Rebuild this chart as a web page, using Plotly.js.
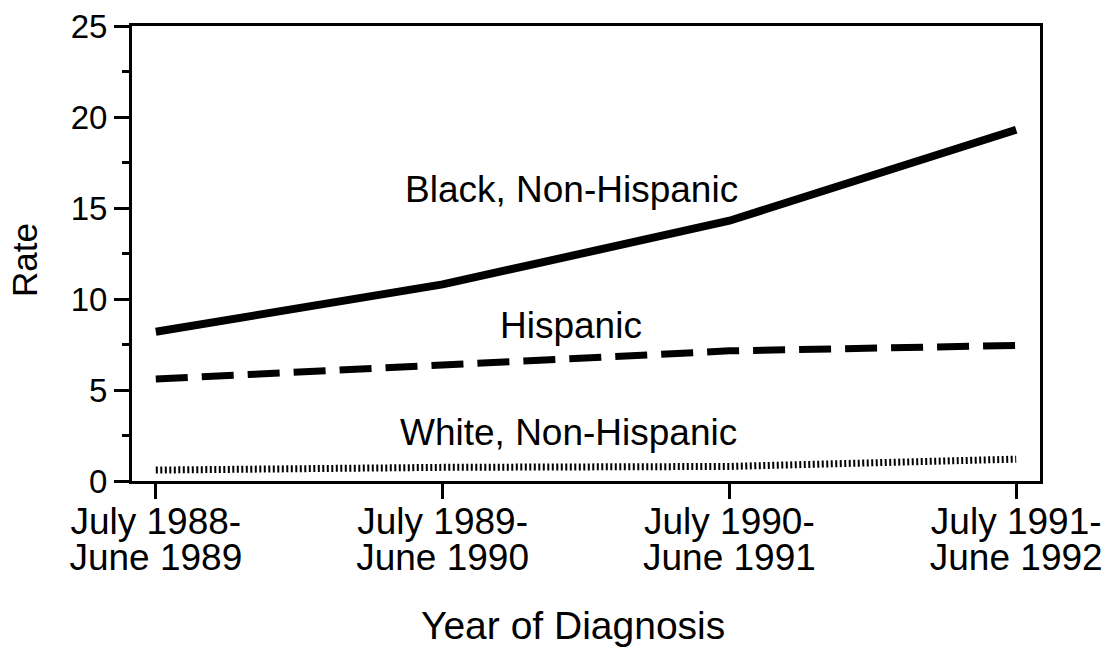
<!DOCTYPE html>
<html>
<head>
<meta charset="utf-8">
<script src="https://cdn.plot.ly/plotly-3.0.1.min.js"></script>
<style>html,body{margin:0;padding:0;background:#fff;}#chart{width:1111px;height:656px;}</style>
</head>
<body>
<div id="chart"></div>
<script>
const periods = ["July 1988-June 1989", "July 1989-June 1990", "July 1990-June 1991", "July 1991-June 1992"];
const tickLine1 = ["July 1988-", "July 1989-", "July 1990-", "July 1991-"];
const tickLine2 = ["June 1989", "June 1990", "June 1991", "June 1992"];
const blackNonHispanic = [8.2, 10.8, 14.3, 19.3];
const hispanic = [5.6, 6.4, 7.15, 7.45];
const whiteNonHispanic = [0.6, 0.75, 0.8, 1.2];
const seriesLabels = ["Black, Non-Hispanic", "Hispanic", "White, Non-Hispanic"];
const yTicks = [0, 5, 10, 15, 20, 25];
const xTitle = "Year of Diagnosis";
const yTitle = "Rate";

const FONT = "Liberation Sans, Arial, Helvetica, sans-serif";

const traces = [
  {x: periods, y: blackNonHispanic, mode: "lines", name: seriesLabels[0],
   line: {color: "#000", width: 8}},
  {x: periods, y: hispanic, mode: "lines", name: seriesLabels[1],
   line: {color: "#000", width: 7, dash: "32px,14px"}},
  {x: periods, y: whiteNonHispanic, mode: "lines", name: seriesLabels[2],
   line: {color: "#000", width: 7, dash: "2px,2.5px"}}
];

const annotations = [];
const labelPos = [[0.484, 0.6413], [0.484, 0.3411], [0.481, 0.1066]];
seriesLabels.forEach((t, i) => annotations.push({xref: "paper", yref: "paper", x: labelPos[i][0], y: labelPos[i][1],
  text: t, showarrow: false, xanchor: "center", yanchor: "middle", font: {family: FONT, size: 37, color: "#000"}}));
annotations.push({xref: "paper", yref: "paper", x: 0.4862, y: -0.3176, text: xTitle, showarrow: false,
  xanchor: "center", yanchor: "middle", font: {family: FONT, size: 39, color: "#000"}});
annotations.push({xref: "paper", yref: "paper", x: -0.119, y: 0.4857, text: yTitle, showarrow: false,
  textangle: -90, xanchor: "center", yanchor: "middle", font: {family: FONT, size: 35, color: "#000"}});

const layout = {
  width: 1111, height: 656,
  margin: {l: 132, r: 71, t: 26, b: 175, pad: 0},
  paper_bgcolor: "#fff", plot_bgcolor: "#fff",
  showlegend: false,
  font: {family: FONT, color: "#000"},
  xaxis: {
    type: "category", range: [-0.083, 3.083],
    tickmode: "array", tickvals: periods,
    ticktext: periods.map((p, i) => tickLine1[i] + "<br>" + tickLine2[i]),
    tickfont: {family: FONT, size: 37, color: "#000"},
    ticklabelstandoff: -9,
    showgrid: false, zeroline: false,
    showline: true, linecolor: "#000", linewidth: 3, mirror: true,
    ticks: "outside", ticklen: 15, tickwidth: 3, tickcolor: "#000"
  },
  yaxis: {
    range: [0, 25], tickmode: "array", tickvals: yTicks, ticktext: yTicks.map(String),
    showgrid: false, zeroline: false,
    showline: true, linecolor: "#000", linewidth: 3, mirror: true,
    ticks: "outside", ticklen: 15, tickwidth: 3, tickcolor: "#000",
    tickfont: {family: FONT, size: 33, color: "#000"},
    minor: {dtick: 2.5, tick0: 0, ticks: "outside", ticklen: 7, tickwidth: 3, tickcolor: "#000", showgrid: false}
  },
  annotations: annotations
};

Plotly.newPlot("chart", traces, layout, {displayModeBar: false, staticPlot: true}).then(() => {
  // tighter line spacing for the two-line category labels, as in the reference
  document.querySelectorAll("#chart .xtick text tspan.line").forEach(ts => {
    if (ts.getAttribute("dy") && parseFloat(ts.getAttribute("dy")) > 0) ts.setAttribute("dy", "0.95em");
  });
});
</script>
</body>
</html>
